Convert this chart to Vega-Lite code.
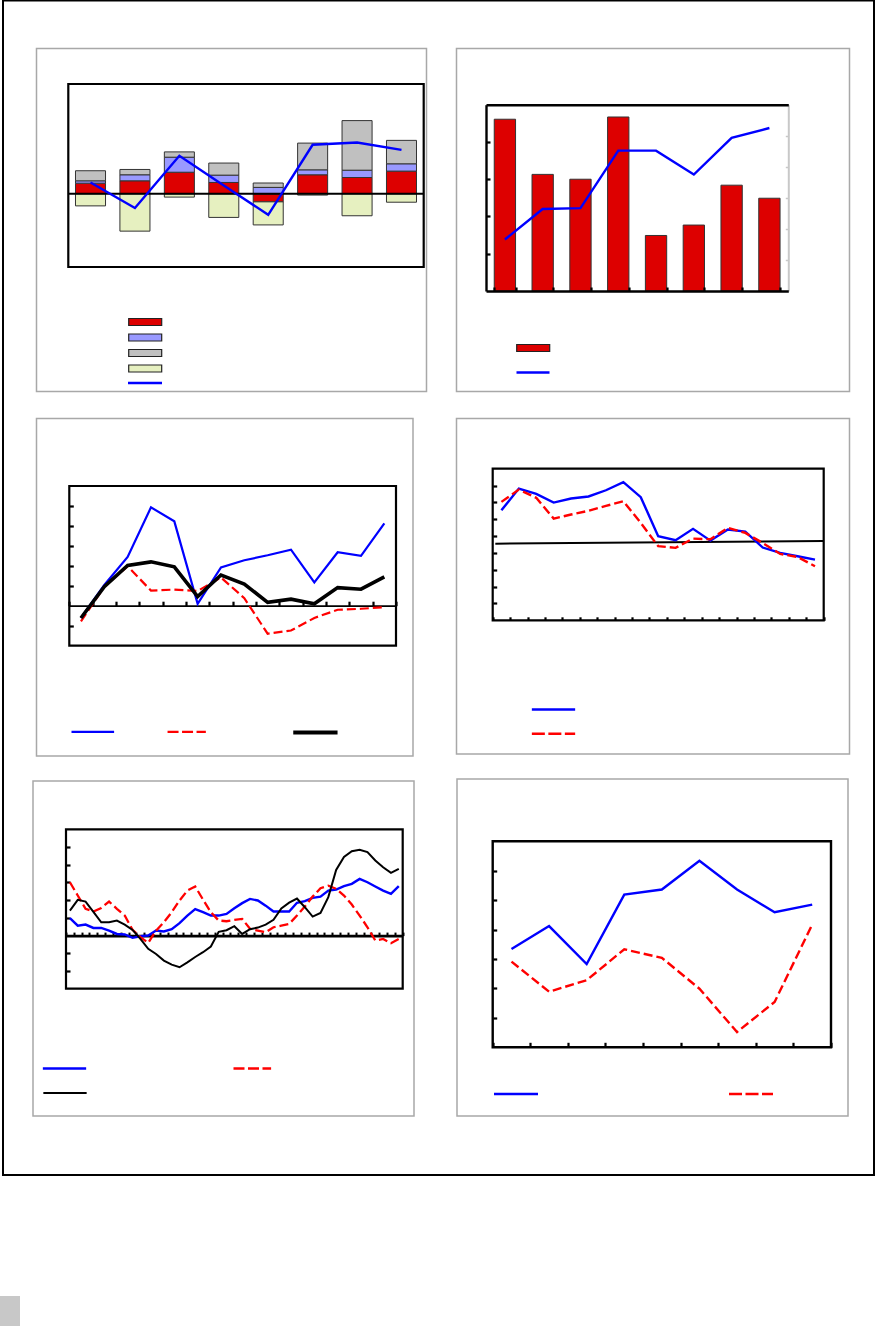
{
"$schema":"https://vega.github.io/schema/vega-lite/v6.json",
"width":876,"height":1326,"autosize":"none","padding":0,"background":"white",
"config":{"view":{"stroke":null},"legend":{"padding":0,"labelFontSize":1,"title":null}},
"datasets":{
"unit":[{"a":0,"b":1}],
"p1b":[{"g":1,"k":"a","o":1,"v":0.58},{"g":1,"k":"b","o":2,"v":0.13},{"g":1,"k":"c","o":3,"v":0.55},{"g":1,"k":"d","o":4,"v":-0.66},
{"g":2,"k":"a","o":1,"v":0.71},{"g":2,"k":"b","o":2,"v":0.33},{"g":2,"k":"c","o":3,"v":0.29},{"g":2,"k":"d","o":4,"v":-2.04},
{"g":3,"k":"a","o":1,"v":1.18},{"g":3,"k":"b","o":2,"v":0.82},{"g":3,"k":"c","o":3,"v":0.29},{"g":3,"k":"d","o":4,"v":-0.18},
{"g":4,"k":"a","o":1,"v":0.62},{"g":4,"k":"b","o":2,"v":0.40},{"g":4,"k":"c","o":3,"v":0.66},{"g":4,"k":"d","o":4,"v":-1.29},
{"g":5,"k":"a","o":1,"v":-0.44},{"g":5,"k":"b","o":2,"v":0.35},{"g":5,"k":"c","o":3,"v":0.24},{"g":5,"k":"d","o":4,"v":-1.26},
{"g":6,"k":"a","o":1,"v":1.04},{"g":6,"k":"b","o":2,"v":0.27},{"g":6,"k":"c","o":3,"v":1.46},{"g":6,"k":"d","o":4,"v":-0.07},
{"g":7,"k":"a","o":1,"v":0.89},{"g":7,"k":"b","o":2,"v":0.40},{"g":7,"k":"c","o":3,"v":2.71},{"g":7,"k":"d","o":4,"v":-1.20},
{"g":8,"k":"a","o":1,"v":1.24},{"g":8,"k":"b","o":2,"v":0.40},{"g":8,"k":"c","o":3,"v":1.28},{"g":8,"k":"d","o":4,"v":-0.46}],
"p1l":[{"g":1,"v":0.62},{"g":2,"v":-0.78},{"g":3,"v":2.08},{"g":4,"v":0.46},{"g":5,"v":-1.15},{"g":6,"v":2.68},{"g":7,"v":2.80},{"g":8,"v":2.40}],
"p2":[{"g":1,"bar":4.61,"line":1.66},{"g":2,"bar":3.13,"line":2.64},{"g":3,"bar":3.00,"line":2.67},{"g":4,"bar":4.67,"line":4.52},{"g":5,"bar":1.49,"line":4.52},{"g":6,"bar":1.77,"line":3.75},{"g":7,"bar":2.84,"line":4.93},{"g":8,"bar":2.49,"line":5.25}],
"p3":[{"i":1,"b":-0.61,"r":-0.78,"k":-0.61},{"i":2,"b":1.04,"r":0.96,"k":0.96},{"i":3,"b":2.45,"r":1.98,"k":2.02},{"i":4,"b":4.93,"r":0.76,"k":2.20},{"i":5,"b":4.23,"r":0.81,"k":1.95},{"i":6,"b":0.10,"r":0.74,"k":0.46},{"i":7,"b":1.92,"r":1.42,"k":1.54},{"i":8,"b":2.28,"r":0.38,"k":1.09},{"i":9,"b":2.53,"r":-1.40,"k":0.17},{"i":10,"b":2.81,"r":-1.24,"k":0.33},{"i":11,"b":1.17,"r":-0.61,"k":0.10},{"i":12,"b":2.68,"r":-0.20,"k":0.91},{"i":13,"b":2.50,"r":-0.15,"k":0.83},{"i":14,"b":4.13,"r":-0.07,"k":1.45}],
"p4":[{"i":1,"b":6.53,"r":7.03},{"i":2,"b":7.82,"r":7.76},{"i":3,"b":7.50,"r":7.27},{"i":4,"b":6.99,"r":6.04},{"i":5,"b":7.23,"r":6.28},{"i":6,"b":7.35,"r":6.50},{"i":7,"b":7.72,"r":6.79},{"i":8,"b":8.20,"r":7.07},{"i":9,"b":7.31,"r":5.78},{"i":10,"b":4.99,"r":4.40},{"i":11,"b":4.75,"r":4.30},{"i":12,"b":5.43,"r":4.85},{"i":13,"b":4.73,"r":4.81},{"i":14,"b":5.39,"r":5.49},{"i":15,"b":5.27,"r":5.19},{"i":16,"b":4.32,"r":4.59},{"i":17,"b":4.00,"r":3.94},{"i":18,"b":3.80,"r":3.76},{"i":19,"b":3.60,"r":3.21}],
"p4t":[{"t":0,"v":4.55},{"t":1,"v":4.71}],
"p5":[{"i":1,"b":0.98,"r":3.01,"k":1.41},{"i":2,"b":0.56,"r":2.26,"k":2.02},{"i":3,"b":0.62,"r":1.51,"k":1.92},{"i":4,"b":0.43,"r":1.36,"k":1.34},{"i":5,"b":0.43,"r":1.56,"k":0.75},{"i":6,"b":0.28,"r":1.92,"k":0.75},{"i":7,"b":0.09,"r":1.51,"k":0.85},{"i":8,"b":0.06,"r":1.13,"k":0.62},{"i":9,"b":-0.13,"r":0.32,"k":0.32},{"i":10,"b":-0.04,"r":-0.09,"k":-0.19},{"i":11,"b":0.0,"r":-0.41,"k":-0.75},{"i":12,"b":0.28,"r":0.28,"k":-1.04},{"i":13,"b":0.23,"r":0.75,"k":-1.41},{"i":14,"b":0.36,"r":1.32,"k":-1.64},{"i":15,"b":0.70,"r":1.98,"k":-1.79},{"i":16,"b":1.13,"r":2.54,"k":-1.51},{"i":17,"b":1.49,"r":2.77,"k":-1.21},{"i":18,"b":1.32,"r":2.03,"k":-0.94},{"i":19,"b":1.13,"r":1.32,"k":-0.62},{"i":20,"b":1.13,"r":0.85,"k":0.21},{"i":21,"b":1.22,"r":0.81,"k":0.30},{"i":22,"b":1.54,"r":0.89,"k":0.53},{"i":23,"b":1.83,"r":0.94,"k":0.09},{"i":24,"b":2.07,"r":0.38,"k":0.36},{"i":25,"b":1.98,"r":0.28,"k":0.45},{"i":26,"b":1.69,"r":0.19,"k":0.62},{"i":27,"b":1.36,"r":0.47,"k":0.89},{"i":28,"b":1.36,"r":0.56,"k":1.53},{"i":29,"b":1.36,"r":0.66,"k":1.86},{"i":30,"b":1.85,"r":1.13,"k":2.09},{"i":31,"b":1.94,"r":1.64,"k":1.60},{"i":32,"b":2.13,"r":2.20,"k":1.07},{"i":33,"b":2.20,"r":2.67,"k":1.28},{"i":34,"b":2.54,"r":2.82,"k":2.17},{"i":35,"b":2.60,"r":2.64,"k":3.71},{"i":36,"b":2.79,"r":2.26,"k":4.44},{"i":37,"b":2.92,"r":1.75,"k":4.76},{"i":38,"b":3.20,"r":1.13,"k":4.84},{"i":39,"b":3.01,"r":0.47,"k":4.71},{"i":40,"b":2.77,"r":-0.28,"k":4.24},{"i":41,"b":2.54,"r":-0.19,"k":3.86},{"i":42,"b":2.35,"r":-0.43,"k":3.54},{"i":43,"b":2.79,"r":-0.19,"k":3.77}],
"p6":[{"i":1,"b":3.34,"r":2.91},{"i":2,"b":4.12,"r":1.89},{"i":3,"b":2.83,"r":2.28},{"i":4,"b":5.19,"r":3.33},{"i":5,"b":5.36,"r":3.04},{"i":6,"b":6.34,"r":1.99},{"i":7,"b":5.36,"r":0.52},{"i":8,"b":4.59,"r":1.54},{"i":9,"b":4.85,"r":4.17}]
},
"layer":[
{"data":{"name":"unit"},"mark":{"type":"rect","fill":"transparent","stroke":"black","strokeWidth":2},"encoding":{"x":{"field":"a","type":"quantitative","scale":{"domain":[0,1],"range":[3,874],"nice":false,"zero":false},"axis":null},"x2":{"field":"b"},"y":{"field":"a","type":"quantitative","scale":{"domain":[0,1],"range":[1175,0.5],"nice":false,"zero":false},"axis":null},"y2":{"field":"b"}}},
{"data":{"name":"unit"},"mark":{"type":"rect","fill":"#c8c8c8","strokeWidth":0},"encoding":{"x":{"field":"a","type":"quantitative","scale":{"domain":[0,1],"range":[0,20],"nice":false,"zero":false},"axis":null},"x2":{"field":"b"},"y":{"field":"a","type":"quantitative","scale":{"domain":[0,1],"range":[1326,1296],"nice":false,"zero":false},"axis":null},"y2":{"field":"b"}}},
{"data":{"name":"unit"},"mark":{"type":"rect","fill":"transparent","stroke":"#a8a8a8","strokeWidth":1.5},"encoding":{"x":{"field":"a","type":"quantitative","scale":{"domain":[0,1],"range":[36.5,426.5],"nice":false,"zero":false},"axis":null},"x2":{"field":"b"},"y":{"field":"a","type":"quantitative","scale":{"domain":[0,1],"range":[391.5,48.5],"nice":false,"zero":false},"axis":null},"y2":{"field":"b"}}},
{"data":{"name":"unit"},"mark":{"type":"rect","fill":"transparent","stroke":"#a8a8a8","strokeWidth":1.5},"encoding":{"x":{"field":"a","type":"quantitative","scale":{"domain":[0,1],"range":[456.5,849.5],"nice":false,"zero":false},"axis":null},"x2":{"field":"b"},"y":{"field":"a","type":"quantitative","scale":{"domain":[0,1],"range":[391.5,48.5],"nice":false,"zero":false},"axis":null},"y2":{"field":"b"}}},
{"data":{"name":"unit"},"mark":{"type":"rect","fill":"transparent","stroke":"#a8a8a8","strokeWidth":1.5},"encoding":{"x":{"field":"a","type":"quantitative","scale":{"domain":[0,1],"range":[36.5,413],"nice":false,"zero":false},"axis":null},"x2":{"field":"b"},"y":{"field":"a","type":"quantitative","scale":{"domain":[0,1],"range":[756,418.5],"nice":false,"zero":false},"axis":null},"y2":{"field":"b"}}},
{"data":{"name":"unit"},"mark":{"type":"rect","fill":"transparent","stroke":"#a8a8a8","strokeWidth":1.5},"encoding":{"x":{"field":"a","type":"quantitative","scale":{"domain":[0,1],"range":[456.5,849.5],"nice":false,"zero":false},"axis":null},"x2":{"field":"b"},"y":{"field":"a","type":"quantitative","scale":{"domain":[0,1],"range":[754,418.5],"nice":false,"zero":false},"axis":null},"y2":{"field":"b"}}},
{"data":{"name":"unit"},"mark":{"type":"rect","fill":"transparent","stroke":"#a8a8a8","strokeWidth":1.5},"encoding":{"x":{"field":"a","type":"quantitative","scale":{"domain":[0,1],"range":[33,414],"nice":false,"zero":false},"axis":null},"x2":{"field":"b"},"y":{"field":"a","type":"quantitative","scale":{"domain":[0,1],"range":[1116,781],"nice":false,"zero":false},"axis":null},"y2":{"field":"b"}}},
{"data":{"name":"unit"},"mark":{"type":"rect","fill":"transparent","stroke":"#a8a8a8","strokeWidth":1.5},"encoding":{"x":{"field":"a","type":"quantitative","scale":{"domain":[0,1],"range":[457,848],"nice":false,"zero":false},"axis":null},"x2":{"field":"b"},"y":{"field":"a","type":"quantitative","scale":{"domain":[0,1],"range":[1116,779],"nice":false,"zero":false},"axis":null},"y2":{"field":"b"}}},

{"data":{"name":"p1b"},"mark":{"type":"bar","stroke":"#333333","strokeWidth":1},"encoding":{"x":{"field":"g","type":"ordinal","scale":{"type":"band","range":[68.3,423.7],"paddingInner":0.324,"paddingOuter":0.162},"axis":null},"y":{"field":"v","type":"quantitative","stack":"zero","scale":{"domain":[-4,6],"range":[267,84],"nice":false,"zero":false},"axis":null},"color":{"field":"k","type":"nominal","scale":{"domain":["a","b","c","d"],"range":["#dd0000","#9999ff","#c0c0c0","#e6f0c0"]},"legend":{"title":null,"orient":"none","legendX":140.2,"legendY":317,"symbolType":"M-4,-0.85H4V0.85H-4Z","symbolSize":68,"rowPadding":3.5,"labelExpr":"''","labelFontSize":1,"padding":0,"symbolStrokeColor":"#222222","symbolStrokeWidth":1.2,"symbolOpacity":1}},"order":{"field":"o"}}},
{"data":{"name":"unit"},"mark":{"type":"rule","color":"black","strokeWidth":2},"encoding":{"x":{"field":"a","type":"quantitative","scale":{"domain":[0,1],"range":[68.3,423.7],"nice":false,"zero":false},"axis":null},"x2":{"field":"b"},"y":{"datum":0,"type":"quantitative","scale":{"domain":[-4,6],"range":[267,84],"nice":false,"zero":false},"axis":null}}},
{"data":{"name":"p1l"},"mark":{"type":"line","strokeWidth":2.4},"encoding":{"x":{"field":"g","type":"ordinal","scale":{"type":"band","range":[68.3,423.7],"paddingInner":0.324,"paddingOuter":0.162},"axis":null},"y":{"field":"v","type":"quantitative","scale":{"domain":[-4,6],"range":[267,84],"nice":false,"zero":false},"axis":null},"color":{"datum":"line1","scale":{"range":["#0000ff"]},"legend":{"title":null,"orient":"none","legendX":126.5,"legendY":364.5,"symbolType":"stroke","symbolSize":1156,"symbolStrokeWidth":2.4,"labelExpr":"''","labelFontSize":1,"padding":0}}}},
{"data":{"name":"unit"},"mark":{"type":"rect","fill":"transparent","stroke":"black","strokeWidth":2.2},"encoding":{"x":{"field":"a","type":"quantitative","scale":{"domain":[0,1],"range":[68.3,423.7],"nice":false,"zero":false},"axis":null},"x2":{"field":"b"},"y":{"field":"a","type":"quantitative","scale":{"domain":[0,1],"range":[267,84],"nice":false,"zero":false},"axis":null},"y2":{"field":"b"}}},

{"data":{"name":"p2"},"mark":{"type":"bar","stroke":"#333333","strokeWidth":1},"encoding":{"x":{"field":"g","type":"ordinal","scale":{"type":"band","range":[486,788.3],"paddingInner":0.436,"paddingOuter":0.218},"axis":{"orient":"bottom","offset":-1035,"labels":false,"title":null,"grid":false,"domainColor":"black","domainWidth":2.4,"ticks":true,"tickBand":"extent","tickSize":-4,"tickWidth":2.2,"tickColor":"black","zindex":1}},"y":{"field":"bar","type":"quantitative","scale":{"domain":[0,5],"range":[291,104.7],"nice":false,"zero":false},"axis":{"orient":"left","offset":-486,"labels":false,"title":null,"grid":false,"domainColor":"black","domainWidth":2.4,"values":[1,2,3,4],"tickSize":-4,"tickWidth":2.2,"tickColor":"black","zindex":1}},"color":{"datum":"bar2","scale":{"range":["#dd0000"]},"legend":{"title":null,"orient":"none","legendX":528.2,"legendY":343,"symbolType":"M-4,-0.85H4V0.85H-4Z","symbolSize":68,"labelExpr":"''","labelFontSize":1,"padding":0,"symbolStrokeColor":"#222222","symbolStrokeWidth":1.2,"symbolOpacity":1}}}},
{"data":{"name":"p2"},"mark":{"type":"line","strokeWidth":2.4},"encoding":{"x":{"field":"g","type":"ordinal","scale":{"type":"band","range":[486,788.3],"paddingInner":0.436,"paddingOuter":0.218},"axis":{"orient":"top","offset":-104.7,"labels":false,"ticks":false,"title":null,"grid":false,"domainColor":"black","domainWidth":2.4,"zindex":1}},"y":{"field":"line","type":"quantitative","scale":{"domain":[0,6],"range":[291,104.7],"nice":false,"zero":false},"axis":{"orient":"right","offset":-87.7,"labels":false,"title":null,"grid":false,"domainColor":"#c8c8c8","domainWidth":2,"values":[1,2,3,4,5],"tickSize":-3,"tickWidth":1.5,"tickColor":"#c8c8c8"}},"color":{"datum":"line2","scale":{"range":["#0000ff"]},"legend":{"title":null,"orient":"none","legendX":515,"legendY":354.5,"symbolType":"stroke","symbolSize":1089,"symbolStrokeWidth":2.4,"labelExpr":"''","labelFontSize":1,"padding":0}}}},

{"data":{"name":"unit"},"mark":{"type":"rect","fill":"transparent","stroke":"black","strokeWidth":2.2},"encoding":{"x":{"field":"a","type":"quantitative","scale":{"domain":[0,1],"range":[69.3,396],"nice":false,"zero":false},"axis":null},"x2":{"field":"b"},"y":{"field":"a","type":"quantitative","scale":{"domain":[0,1],"range":[645.7,486],"nice":false,"zero":false},"axis":null},"y2":{"field":"b"}}},
{"data":{"name":"p3"},"mark":{"type":"line","strokeWidth":2.2},"encoding":{"x":{"field":"i","type":"ordinal","scale":{"type":"band","range":[69.3,396],"padding":0},"axis":{"orient":"bottom","offset":-720.3,"labels":false,"title":null,"grid":false,"domainColor":"black","domainWidth":1.8,"tickBand":"extent","tickSize":-4.5,"tickWidth":2.2,"tickColor":"black"}},"y":{"field":"b","type":"quantitative","scale":{"domain":[-2,6],"range":[645.7,486],"nice":false,"zero":false},"axis":{"orient":"left","offset":-69.3,"labels":false,"title":null,"grid":false,"domain":false,"values":[-1,1,2,3,4,5],"tickSize":-4,"tickWidth":2.2,"tickColor":"black"}},"color":{"datum":"b3","scale":{"range":["#0000ff"]},"legend":{"title":null,"orient":"none","legendX":70.3,"legendY":709.3,"symbolType":"stroke","symbolSize":1815,"symbolStrokeWidth":2.2,"labelExpr":"''","labelFontSize":1,"padding":0}}}},
{"data":{"name":"p3"},"mark":{"type":"line","strokeWidth":2.2,"strokeDash":[9,4]},"encoding":{"x":{"field":"i","type":"ordinal","scale":{"type":"band","range":[69.3,396],"padding":0},"axis":null},"y":{"field":"r","type":"quantitative","scale":{"domain":[-2,6],"range":[645.7,486],"nice":false,"zero":false},"axis":null},"color":{"datum":"r3","scale":{"range":["#ff0000"]},"legend":{"title":null,"orient":"none","legendX":166.2,"legendY":711.3,"symbolType":"stroke","symbolSize":1467,"symbolStrokeWidth":2.2,"symbolDash":[11,3.5],"labelExpr":"''","labelFontSize":1,"padding":0}}}},
{"data":{"name":"p3"},"mark":{"type":"line","strokeWidth":3.6},"encoding":{"x":{"field":"i","type":"ordinal","scale":{"type":"band","range":[69.3,396],"padding":0},"axis":null},"y":{"field":"k","type":"quantitative","scale":{"domain":[-2,6],"range":[645.7,486],"nice":false,"zero":false},"axis":null},"color":{"datum":"k3","scale":{"range":["#000000"]},"legend":{"title":null,"orient":"none","legendX":290.9,"legendY":708,"symbolType":"stroke","symbolSize":1962,"symbolStrokeWidth":4,"labelExpr":"''","labelFontSize":1,"padding":0}}}},

{"data":{"name":"unit"},"mark":{"type":"rect","fill":"transparent","stroke":"black","strokeWidth":2.2},"encoding":{"x":{"field":"a","type":"quantitative","scale":{"domain":[0,1],"range":[492.7,823.7],"nice":false,"zero":false},"axis":null},"x2":{"field":"b"},"y":{"field":"a","type":"quantitative","scale":{"domain":[0,1],"range":[620.3,468.7],"nice":false,"zero":false},"axis":null},"y2":{"field":"b"}}},
{"data":{"name":"p4t"},"mark":{"type":"line","color":"black","strokeWidth":2},"encoding":{"x":{"field":"t","type":"quantitative","scale":{"domain":[0,1],"range":[495.3,823.7],"nice":false,"zero":false},"axis":null},"y":{"field":"v","type":"quantitative","scale":{"domain":[0,9],"range":[620.3,468.7],"nice":false,"zero":false},"axis":null}}},
{"data":{"name":"p4"},"mark":{"type":"line","strokeWidth":2.4},"encoding":{"x":{"field":"i","type":"ordinal","scale":{"type":"band","range":[492.7,823.7],"padding":0},"axis":{"orient":"bottom","offset":-705.7,"labels":false,"title":null,"grid":false,"domain":false,"tickBand":"extent","tickSize":-3.5,"tickWidth":2.2,"tickColor":"black"}},"y":{"field":"b","type":"quantitative","scale":{"domain":[0,9],"range":[620.3,468.7],"nice":false,"zero":false},"axis":{"orient":"left","offset":-492.7,"labels":false,"title":null,"grid":false,"domain":false,"values":[1,2,3,4,5,6,7,8],"tickSize":-4,"tickWidth":2.2,"tickColor":"black"}},"color":{"datum":"b4","scale":{"range":["#0000ff"]},"legend":{"title":null,"orient":"none","legendX":530.5,"legendY":686.5,"symbolType":"stroke","symbolSize":1875,"symbolStrokeWidth":2.4,"labelExpr":"''","labelFontSize":1,"padding":0}}}},
{"data":{"name":"p4"},"mark":{"type":"line","strokeWidth":2.4,"strokeDash":[9,4]},"encoding":{"x":{"field":"i","type":"ordinal","scale":{"type":"band","range":[492.7,823.7],"padding":0},"axis":null},"y":{"field":"r","type":"quantitative","scale":{"domain":[0,9],"range":[620.3,468.7],"nice":false,"zero":false},"axis":null},"color":{"datum":"r4","scale":{"range":["#ff0000"]},"legend":{"title":null,"orient":"none","legendX":530.5,"legendY":710.8,"symbolType":"stroke","symbolSize":1875,"symbolStrokeWidth":2.4,"symbolDash":[13,3.5],"labelExpr":"''","labelFontSize":1,"padding":0}}}},

{"data":{"name":"unit"},"mark":{"type":"rect","fill":"transparent","stroke":"black","strokeWidth":2.2},"encoding":{"x":{"field":"a","type":"quantitative","scale":{"domain":[0,1],"range":[66,402.7],"nice":false,"zero":false},"axis":null},"x2":{"field":"b"},"y":{"field":"a","type":"quantitative","scale":{"domain":[0,1],"range":[988.7,829.3],"nice":false,"zero":false},"axis":null},"y2":{"field":"b"}}},
{"data":{"name":"p5"},"mark":{"type":"line","strokeWidth":2.4},"encoding":{"x":{"field":"i","type":"ordinal","scale":{"type":"band","range":[66,402.7],"padding":0},"axis":{"orient":"bottom","offset":-390.4,"labels":false,"title":null,"grid":false,"domainColor":"black","domainWidth":2.8,"tickBand":"extent","tickSize":-3.5,"tickWidth":2,"tickColor":"black"}},"y":{"field":"b","type":"quantitative","scale":{"domain":[-3,6],"range":[988.7,829.3],"nice":false,"zero":false},"axis":{"orient":"left","offset":-66,"labels":false,"title":null,"grid":false,"domain":false,"values":[-2,-1,1,2,3,4,5],"tickSize":-4,"tickWidth":2.2,"tickColor":"black"}},"color":{"datum":"b5","scale":{"range":["#0000ff"]},"legend":{"title":null,"orient":"none","legendX":41.5,"legendY":1045.5,"symbolType":"stroke","symbolSize":1875,"symbolStrokeWidth":2.4,"labelExpr":"''","labelFontSize":1,"padding":0}}}},
{"data":{"name":"p5"},"mark":{"type":"line","strokeWidth":2.3,"strokeDash":[9,4]},"encoding":{"x":{"field":"i","type":"ordinal","scale":{"type":"band","range":[66,402.7],"padding":0},"axis":null},"y":{"field":"r","type":"quantitative","scale":{"domain":[-3,6],"range":[988.7,829.3],"nice":false,"zero":false},"axis":null},"color":{"datum":"r5","scale":{"range":["#ff0000"]},"legend":{"title":null,"orient":"none","legendX":232.3,"legendY":1048.5,"symbolType":"stroke","symbolSize":1414,"symbolStrokeWidth":2.3,"symbolDash":[11,3.5],"labelExpr":"''","labelFontSize":1,"padding":0}}}},
{"data":{"name":"p5"},"mark":{"type":"line","strokeWidth":2},"encoding":{"x":{"field":"i","type":"ordinal","scale":{"type":"band","range":[66,402.7],"padding":0},"axis":null},"y":{"field":"k","type":"quantitative","scale":{"domain":[-3,6],"range":[988.7,829.3],"nice":false,"zero":false},"axis":null},"color":{"datum":"k5","scale":{"range":["#000000"]},"legend":{"title":null,"orient":"none","legendX":42,"legendY":1070,"symbolType":"stroke","symbolSize":1875,"symbolStrokeWidth":2,"labelExpr":"''","labelFontSize":1,"padding":0}}}},

{"data":{"name":"unit"},"mark":{"type":"rect","fill":"transparent","stroke":"black","strokeWidth":2.4},"encoding":{"x":{"field":"a","type":"quantitative","scale":{"domain":[0,1],"range":[492.7,831],"nice":false,"zero":false},"axis":null},"x2":{"field":"b"},"y":{"field":"a","type":"quantitative","scale":{"domain":[0,1],"range":[1047.3,841.3],"nice":false,"zero":false},"axis":null},"y2":{"field":"b"}}},
{"data":{"name":"p6"},"mark":{"type":"line","strokeWidth":2.4},"encoding":{"x":{"field":"i","type":"ordinal","scale":{"type":"band","range":[492.7,831],"padding":0},"axis":{"orient":"bottom","offset":-278.7,"labels":false,"title":null,"grid":false,"domain":false,"tickBand":"extent","tickSize":-5,"tickWidth":2.2,"tickColor":"black"}},"y":{"field":"b","type":"quantitative","scale":{"domain":[0,7],"range":[1047.3,841.3],"nice":false,"zero":false},"axis":{"orient":"left","offset":-492.7,"labels":false,"title":null,"grid":false,"domain":false,"values":[1,2,3,4,5,6],"tickSize":-4,"tickWidth":2.2,"tickColor":"black"}},"color":{"datum":"b6","scale":{"range":["#0000ff"]},"legend":{"title":null,"orient":"none","legendX":492.5,"legendY":1070.5,"symbolType":"stroke","symbolSize":1936,"symbolStrokeWidth":2.4,"labelExpr":"''","labelFontSize":1,"padding":0}}}},
{"data":{"name":"p6"},"mark":{"type":"line","strokeWidth":2.4,"strokeDash":[9,4]},"encoding":{"x":{"field":"i","type":"ordinal","scale":{"type":"band","range":[492.7,831],"padding":0},"axis":null},"y":{"field":"r","type":"quantitative","scale":{"domain":[0,7],"range":[1047.3,841.3],"nice":false,"zero":false},"axis":null},"color":{"datum":"r6","scale":{"range":["#ff0000"]},"legend":{"title":null,"orient":"none","legendX":727.5,"legendY":1070.5,"symbolType":"stroke","symbolSize":1936,"symbolStrokeWidth":2.4,"symbolDash":[13,3.5],"labelExpr":"''","labelFontSize":1,"padding":0}}}}
],
"resolve":{"scale":{"x":"independent","y":"independent","color":"independent"},"axis":{"x":"independent","y":"independent"},"legend":{"color":"independent"}}
}
